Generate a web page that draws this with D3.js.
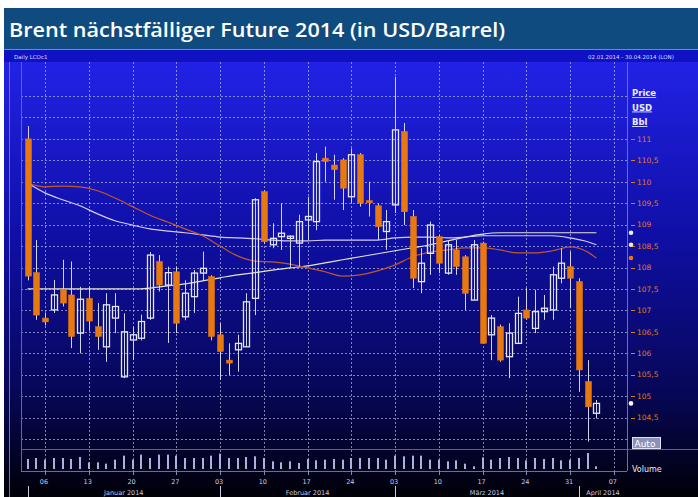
<!DOCTYPE html>
<html>
<head>
<meta charset="utf-8">
<script src="https://cdn.jsdelivr.net/npm/d3@7"></script>
<style>
  html, body { margin: 0; padding: 0; background: #fff; }
  svg { display: block; }
</style>
</head>
<body>
<div id="chart"></div>
<script>
// Brent candles, 02.01.2014 - 03.04.2014 (one entry per trading day)
const open  = [111.00,107.88,106.82,107.01,107.49,107.36,106.47,107.28,106.62,106.15,106.82,105.45,106.31,106.35,106.82,108.14,107.59,107.90,106.85,107.32,107.87,107.79,106.43,105.84,106.08,106.15,107.28,109.77,108.53,108.72,108.68,108.57,109.11,109.07,110.55,110.39,110.51,109.65,110.63,109.56,109.44,108.84,109.46,111.17,109.19,107.67,108.33,108.72,107.87,108.41,108.25,107.24,108.57,106.43,106.62,105.92,106.23,107.01,106.58,106.97,107.01,107.75,108.02,107.67,105.34,104.60];
const high  = [111.30,108.64,106.95,107.71,108.18,108.14,107.55,107.55,107.17,107.40,107.40,106.93,106.62,106.90,108.36,108.29,108.02,108.02,107.70,107.94,108.37,107.82,106.70,106.23,106.43,107.40,109.62,109.80,109.03,109.50,108.75,109.23,109.65,110.67,110.82,110.63,110.55,110.78,110.67,110.00,109.50,109.34,112.45,111.37,109.34,108.45,109.07,108.76,108.64,108.64,108.29,108.64,108.60,106.89,106.67,106.70,107.32,107.52,107.48,107.36,108.02,108.45,108.37,107.75,105.84,104.91];
const low   = [107.70,106.78,106.65,106.94,107.09,106.12,106.00,106.54,106.08,105.80,106.47,105.42,105.84,106.30,106.78,107.44,106.24,106.47,106.77,106.94,107.70,106.30,105.38,105.49,105.57,106.15,106.89,108.55,108.45,108.41,108.00,108.02,108.64,108.87,110.00,109.58,109.34,109.50,109.42,109.19,108.64,108.41,109.27,108.99,107.52,107.40,107.83,107.87,107.83,107.83,107.01,107.24,106.23,105.84,105.80,105.42,106.23,106.78,106.47,106.78,106.78,107.63,107.05,105.10,103.94,104.48];
const close = [107.80,106.89,106.73,107.36,107.17,106.39,107.26,106.75,106.39,107.13,107.09,106.50,106.43,106.74,108.29,107.59,107.88,106.70,107.40,107.87,107.98,106.39,106.04,105.77,106.23,107.20,109.58,108.60,108.68,108.80,108.73,109.07,109.19,110.47,110.47,110.28,109.85,110.63,109.50,109.51,108.95,109.07,111.21,109.30,107.75,108.10,108.99,108.10,108.53,108.02,107.40,108.53,106.23,106.82,105.84,106.47,106.93,106.82,106.97,107.05,107.83,108.10,107.75,105.61,104.75,104.83];
const volume = [150,165,140,165,165,150,180,100,100,80,140,200,140,215,165,215,215,200,165,165,165,200,230,165,165,180,190,165,115,100,115,90,150,130,140,150,140,165,165,165,165,140,200,190,200,200,140,140,115,130,80,40,175,140,165,180,165,130,165,150,165,130,140,165,240,40];

// moving averages, read every second trading day
const maDays = [0,2,4,6,8,10,12,14,16,18,20,22,24,26,28,30,32,34,36,38,40,42,44,46,48,50,52,54,56,58,60,62,64,65];
const maOrange = [109.97,109.88,109.90,109.88,109.79,109.62,109.42,109.22,109.06,108.90,108.74,108.50,108.27,108.15,108.13,108.08,107.99,107.90,107.80,107.83,107.92,108.06,108.25,108.36,108.41,108.46,108.46,108.41,108.34,108.34,108.39,108.48,108.36,108.22];
const maWhite  = [109.97,109.74,109.58,109.44,109.25,109.09,108.99,108.90,108.85,108.81,108.76,108.71,108.69,108.67,108.64,108.62,108.62,108.64,108.64,108.64,108.64,108.69,108.71,108.71,108.69,108.71,108.74,108.74,108.74,108.74,108.74,108.69,108.60,108.53];
const maPale   = [107.50,107.50,107.50,107.50,107.50,107.50,107.50,107.52,107.57,107.62,107.69,107.76,107.83,107.88,107.94,107.99,108.04,108.11,108.18,108.25,108.32,108.39,108.46,108.53,108.62,108.71,108.78,108.81,108.81,108.81,108.81,108.81,108.81,108.81];

const priceTicks = [104.5,105,105.5,106,106.5,107,107.5,108,108.5,109,109.5,110,110.5,111];
const gridTicks = [104,104.5,105,105.5,106,106.5,107,107.5,108,108.5,109,109.5,110,110.5,111,111.5,112];
const monthNames = ["Januar 2014", "Februar 2014", "März 2014", "April 2014"];

const title = "Brent nächstfälliger Future 2014 (in USD/Barrel)";

// trading days incl. the empty slots up to Mon 07.04.
const days = d3.timeDay.range(new Date(2014, 0, 2), new Date(2014, 3, 8))
    .filter(d => d.getDay() !== 0 && d.getDay() !== 6);

const W = 698, H = 497;
const plot = { left: 21, right: 627, top: 62, bottom: 449 };
const vol = { top: 449, bottom: 471 };

const svg = d3.select("#chart").append("svg")
    .attr("width", W).attr("height", H)
    .style("font-family", "'DejaVu Sans', sans-serif");

const defs = svg.append("defs");
const bg = defs.append("linearGradient").attr("id", "bg")
    .attr("x1", 0).attr("y1", 0).attr("x2", 0).attr("y2", 1);
bg.append("stop").attr("offset", "0%").attr("stop-color", "#2222e6");
bg.append("stop").attr("offset", "40%").attr("stop-color", "#0f0fa6");
bg.append("stop").attr("offset", "75%").attr("stop-color", "#07075a");
bg.append("stop").attr("offset", "90%").attr("stop-color", "#03032a");
bg.append("stop").attr("offset", "100%").attr("stop-color", "#000006");

const clip = defs.append("clipPath").attr("id", "plotclip");
clip.append("rect").attr("x", plot.left).attr("y", plot.top)
    .attr("width", plot.right - plot.left).attr("height", plot.bottom - plot.top);

// background
svg.append("rect").attr("x", 4).attr("y", 62).attr("width", W - 4).attr("height", H - 62)
    .attr("fill", "url(#bg)");
svg.append("rect").attr("x", 4).attr("y", 8).attr("width", W - 4).attr("height", 42)
    .attr("fill", "#0f4b7e");
svg.append("rect").attr("x", 4).attr("y", 49).attr("width", W - 4).attr("height", 1)
    .attr("fill", "#6d8fb5");
svg.append("rect").attr("x", 4).attr("y", 50).attr("width", W - 4).attr("height", 12)
    .attr("fill", "#1111c4");

svg.append("text")
    .attr("x", 9).attr("y", 37)
    .attr("font-family", "'Open Sans', sans-serif")
    .attr("font-size", 20).attr("font-weight", 600)
    .attr("fill", "#fff")
    .attr("textLength", 496).attr("lengthAdjust", "spacingAndGlyphs")
    .text(title);

svg.append("text").attr("x", 14).attr("y", 59)
    .attr("font-size", 5.5).attr("fill", "#d8dcff").text("Daily LCOc1");
svg.append("text").attr("x", 588).attr("y", 59)
    .attr("font-size", 5.5).attr("fill", "#d8dcff").text("02.01.2014 - 30.04.2014 (LON)");

// scales
const x = d3.scaleLinear().domain([-0.4, 68.5]).range([plot.left + 3, plot.right]);
const y = d3.scaleLinear().domain([104, 112]).range([439, 96]);
const yVol = d3.scaleLinear().domain([0, 300]).range([469, 449]);

const fmt = v => d3.format(".1~f")(v).replace(".", ",");

// grid
const mondays = days.map((d, i) => ({ d, i })).filter(o => o.d.getDay() === 1);

svg.append("g").selectAll("line")
    .data(gridTicks).join("line")
    .attr("x1", plot.left).attr("x2", plot.right)
    .attr("y1", d => Math.round(y(d)) + 0.5).attr("y2", d => Math.round(y(d)) + 0.5)
    .attr("stroke", "#b4b8e4").attr("stroke-opacity", 0.7)
    .attr("stroke-dasharray", "2,2");

svg.append("g").selectAll("line")
    .data(mondays).join("line")
    .attr("x1", o => Math.round(x(o.i)) + 0.5).attr("x2", o => Math.round(x(o.i)) + 0.5)
    .attr("y1", plot.top).attr("y2", vol.bottom)
    .attr("stroke", "#b4b8e4").attr("stroke-opacity", 0.7)
    .attr("stroke-dasharray", "2,2");

// frame lines
svg.append("line").attr("x1", 9.5).attr("x2", 9.5).attr("y1", 62).attr("y2", H)
    .attr("stroke", "#7078b0");
svg.append("line").attr("x1", plot.left + 0.5).attr("x2", plot.left + 0.5)
    .attr("y1", plot.top).attr("y2", vol.bottom).attr("stroke", "#2a8a8a");
svg.append("line").attr("x1", plot.right + 0.5).attr("x2", plot.right + 0.5)
    .attr("y1", plot.top).attr("y2", vol.bottom).attr("stroke", "#2a9a8a");
svg.append("line").attr("x1", plot.left).attr("x2", W)
    .attr("y1", vol.top + 0.5).attr("y2", vol.top + 0.5).attr("stroke", "#2a7a8a");
svg.append("line").attr("x1", plot.left).attr("x2", plot.right)
    .attr("y1", vol.bottom + 0.5).attr("y2", vol.bottom + 0.5).attr("stroke", "#2a9a6a");

// moving averages
const g = svg.append("g").attr("clip-path", "url(#plotclip)");
const maLine = vals => d3.line()
    .x((d, k) => x(maDays[k]))
    .y(d => y(d))
    .curve(d3.curveMonotoneX)(vals);

g.append("path").attr("d", maLine(maPale)).attr("fill", "none")
    .attr("stroke", "#e6e4c8").attr("stroke-width", 1.2);
g.append("path").attr("d", maLine(maWhite)).attr("fill", "none")
    .attr("stroke", "#d4cce8").attr("stroke-width", 1.2);
g.append("path").attr("d", maLine(maOrange)).attr("fill", "none")
    .attr("stroke", "#c0582c").attr("stroke-width", 1.2);

// candles
const candles = open.map((o, i) => ({ i, o, h: high[i], l: low[i], c: close[i] }));
const bw = 6;

g.append("g").selectAll("line")
    .data(candles).join("line")
    .attr("x1", d => Math.round(x(d.i)) + 0.5).attr("x2", d => Math.round(x(d.i)) + 0.5)
    .attr("y1", d => y(d.h)).attr("y2", d => y(d.l))
    .attr("stroke", "#d0d4e8").attr("stroke-width", 1);

g.append("g").selectAll("rect")
    .data(candles).join("rect")
    .attr("x", d => Math.round(x(d.i)) - bw / 2 + 0.5)
    .attr("y", d => y(Math.max(d.o, d.c)))
    .attr("width", bw)
    .attr("height", d => Math.max(1.5, Math.abs(y(d.o) - y(d.c))))
    .attr("fill", d => d.c < d.o ? "#e8790e" : "none")
    .attr("stroke", d => d.c < d.o ? "#e8790e" : "#e4e6f4")
    .attr("stroke-width", d => d.c < d.o ? 0.5 : 1.3);

// volume
svg.append("g").selectAll("rect")
    .data(volume).join("rect")
    .attr("x", (d, i) => Math.round(x(i)) - 1)
    .attr("y", d => yVol(d))
    .attr("width", 2)
    .attr("height", d => yVol(0) - yVol(d))
    .attr("fill", "#aab2e4");

// right price axis
const ax = svg.append("g");
ax.selectAll("line").data(priceTicks).join("line")
    .attr("x1", 631).attr("x2", 635)
    .attr("y1", d => Math.round(y(d)) + 0.5).attr("y2", d => Math.round(y(d)) + 0.5)
    .attr("stroke", "#e07a1c");
ax.selectAll("text").data(priceTicks).join("text")
    .attr("x", 637).attr("y", d => y(d) + 2.8)
    .attr("font-size", 7.5).attr("fill", "#e07a1c")
    .text(fmt);

["Price", "USD", "Bbl"].forEach((t, k) => {
    svg.append("text").attr("x", 632).attr("y", 96 + k * 14.5)
        .attr("font-size", 8.5).attr("font-weight", "bold").attr("fill", "#e8ecff")
        .attr("text-decoration", "underline").text(t);
});

// last-value markers
const markers = [
    { v: maPale[maPale.length - 1], c: "#e8f0f0" },
    { v: maWhite[maWhite.length - 1], c: "#f0ecc8" },
    { v: maOrange[maOrange.length - 1], c: "#e8790e" },
    { v: close[close.length - 1], c: "#ffffff" }
];
svg.append("g").selectAll("circle").data(markers).join("circle")
    .attr("cx", 631).attr("cy", d => y(d.v)).attr("r", 2.3)
    .attr("fill", d => d.c);

// Auto button and Volume label
svg.append("rect").attr("x", 632.5).attr("y", 437.5).attr("width", 28).attr("height", 11)
    .attr("fill", "#8a92b8").attr("stroke", "#dfe3f5");
svg.append("text").attr("x", 634.5).attr("y", 446.5).attr("font-size", 9)
    .attr("fill", "#ffffff").text("Auto");
svg.append("text").attr("x", 632).attr("y", 472).attr("font-size", 8)
    .attr("fill", "#e8ecff").text("Volume");

// date axis
const bottom = svg.append("g");
bottom.selectAll("line.tick").data(mondays).join("line")
    .attr("class", "tick")
    .attr("x1", o => Math.round(x(o.i)) + 0.5).attr("x2", o => Math.round(x(o.i)) + 0.5)
    .attr("y1", vol.bottom).attr("y2", vol.bottom + 4)
    .attr("stroke", "#8088b8");
bottom.selectAll("text.day").data(mondays).join("text")
    .attr("class", "day")
    .attr("x", o => x(o.i) - 1).attr("y", 484)
    .attr("text-anchor", "middle")
    .attr("font-size", 6.5).attr("fill", "#c8cce0")
    .text(o => d3.timeFormat("%d")(o.d));

const monthStarts = [0, 1, 2, 3].map(m => days.findIndex(d => d.getMonth() === m));
const monthEdges = monthStarts.map(i => x(i)).concat([plot.right]);
bottom.selectAll("line.sep").data(monthStarts).join("line")
    .attr("class", "sep")
    .attr("x1", i => Math.round(x(i)) + 0.5).attr("x2", i => Math.round(x(i)) + 0.5)
    .attr("y1", 486).attr("y2", H)
    .attr("stroke", "#c8cce0");
bottom.selectAll("text.month").data(monthNames).join("text")
    .attr("class", "month")
    .attr("x", (t, k) => (monthEdges[k] + monthEdges[k + 1]) / 2)
    .attr("y", 494.5)
    .attr("text-anchor", "middle")
    .attr("font-size", 6.5).attr("fill", "#c8cce0")
    .text(t => t);
</script>
</body>
</html>
